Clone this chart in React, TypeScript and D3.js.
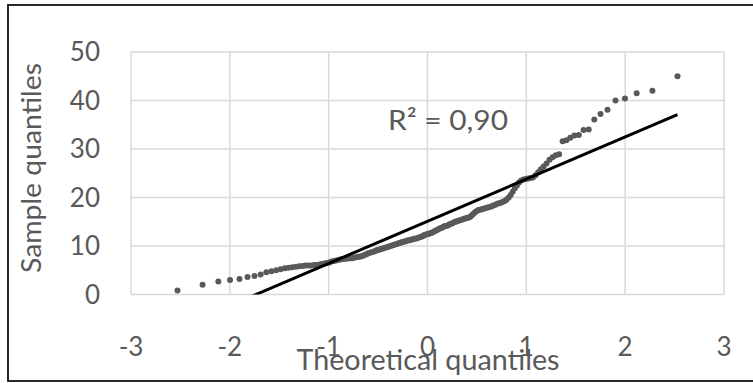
import React from "react";
import * as d3 from "d3";

// Sorted sample values, plotted against normal theoretical quantiles
const sampleQuantiles: number[] = [
  0.8, 2.0, 2.7, 3.0, 3.2, 3.6, 3.8, 4.1, 4.6,
  4.8, 5.0, 5.2, 5.4, 5.5, 5.6, 5.7, 5.8, 5.9, 6.0,
  6.0, 6.0, 6.1, 6.1, 6.2, 6.3, 6.4, 6.5, 6.6, 6.8,
  6.9, 7.0, 7.1, 7.2, 7.3, 7.3, 7.4, 7.4, 7.5, 7.5,
  7.6, 7.7, 7.8, 7.8, 7.9, 8.0, 8.2, 8.3, 8.5, 8.6,
  8.7, 8.8, 8.9, 9.1, 9.2, 9.3, 9.4, 9.5, 9.6, 9.7,
  9.8, 9.9, 10.0, 10.1, 10.2, 10.3, 10.4, 10.5, 10.6, 10.7,
  10.8, 10.9, 11.0, 11.1, 11.2, 11.2, 11.3, 11.4, 11.5, 11.5,
  11.6, 11.7, 11.8, 11.9, 12.0, 12.2, 12.3, 12.4,
  12.5, 12.6, 12.7, 12.8, 13.0, 13.1, 13.3, 13.4, 13.6, 13.7,
  13.8, 14.0, 14.1, 14.2, 14.3, 14.5, 14.6, 14.7, 14.9, 15.0,
  15.1, 15.2, 15.3, 15.4, 15.5, 15.6, 15.7, 15.8, 15.9, 16.1,
  16.4, 16.7, 17.0, 17.2, 17.4, 17.5, 17.6, 17.7, 17.8, 17.9,
  18.0, 18.1, 18.2, 18.4, 18.5, 18.7, 18.8, 18.9, 19.1, 19.3,
  19.6, 20.0, 20.5, 21.2, 21.9, 22.5, 23.1, 23.5, 23.7, 23.8,
  23.9, 24.0, 24.1, 24.6, 25.2, 25.8, 26.4, 27.0, 27.8, 28.3,
  28.7, 28.9, 31.6, 31.8, 32.3, 32.8, 32.9, 33.9, 34.0, 36.1,
  37.2, 38.1, 40.0, 40.4, 41.5, 42.0, 45.0,
];

const xTicks = [-3, -2, -1, 0, 1, 2, 3];
const yTicks = [0, 10, 20, 30, 40, 50];
const trendIntercept = 15.1;
const trendSlope = 8.7;
const r2Label = "R² = 0,90";
const xTitle = "Theoretical quantiles";
const yTitle = "Sample quantiles";

// Inverse standard normal CDF (Acklam)
function invNorm(p: number): number {
  const a = [-3.969683028665376e1, 2.209460984245205e2, -2.759285104469687e2, 1.38357751867269e2, -3.066479806614716e1, 2.506628277459239];
  const b = [-5.447609879822406e1, 1.615858368580409e2, -1.556989798598866e2, 6.680131188771972e1, -1.328068155288572e1];
  const c = [-7.784894002430293e-3, -3.223964580411365e-1, -2.400758277161838, -2.549732539343734, 4.374664141464968, 2.938163982698783];
  const d = [7.784695709041462e-3, 3.224671290700398e-1, 2.445134137142996, 3.754408661907416];
  const plow = 0.02425;
  if (p < plow) {
    const q = Math.sqrt(-2 * Math.log(p));
    return (((((c[0] * q + c[1]) * q + c[2]) * q + c[3]) * q + c[4]) * q + c[5]) / ((((d[0] * q + d[1]) * q + d[2]) * q + d[3]) * q + 1);
  }
  if (p <= 1 - plow) {
    const q = p - 0.5;
    const r = q * q;
    return ((((((a[0] * r + a[1]) * r + a[2]) * r + a[3]) * r + a[4]) * r + a[5]) * q) / (((((b[0] * r + b[1]) * r + b[2]) * r + b[3]) * r + b[4]) * r + 1);
  }
  const q = Math.sqrt(-2 * Math.log(1 - p));
  return -(((((c[0] * q + c[1]) * q + c[2]) * q + c[3]) * q + c[4]) * q + c[5]) / ((((d[0] * q + d[1]) * q + d[2]) * q + d[3]) * q + 1);
}

const FONT = "Lato, 'Open Sans', sans-serif";
const TEXT = "#595959";
const GRID = "#d9d9d9";

export default function App() {
  const W = 753;
  const H = 383;
  const left = 131, right = 724, top = 52, bottom = 294.5;
  const x = d3.scaleLinear().domain([-3, 3]).range([left, right]);
  const y = d3.scaleLinear().domain([0, 50]).range([bottom, top]);

  const n = sampleQuantiles.length;
  const pts = sampleQuantiles.map((v, i) => ({ tq: invNorm((i + 1) / (n + 1)), v }));
  const xMin = d3.min(pts, (p) => p.tq) as number;
  const xMax = d3.max(pts, (p) => p.tq) as number;
  const trend = [xMin, xMax].map((t) => ({ t, v: trendIntercept + trendSlope * t }));
  const lineGen = d3
    .line<{ t: number; v: number }>()
    .x((p) => x(p.t))
    .y((p) => y(p.v));

  return (
    <svg
      width={W}
      height={H}
      style={{ position: "absolute", left: 0, top: 0, background: "#fff" }}
      fontFamily={FONT}
    >
      <defs>
        <clipPath id="plotClip">
          <rect x={left} y={top} width={right - left} height={bottom - top} />
        </clipPath>
      </defs>
      <rect x={0} y={0} width={W} height={H} fill="#fff" />
      <rect x={8} y={5} width={W + 20} height={376} fill="none" stroke="#111" strokeWidth={1.8} />

      {/* grid */}
      {yTicks.map((t) => (
        <line key={"gy" + t} x1={left} x2={right} y1={y(t)} y2={y(t)} stroke={GRID} strokeWidth={1.5} />
      ))}
      {xTicks.map((t) => (
        <line key={"gx" + t} x1={x(t)} x2={x(t)} y1={top} y2={bottom} stroke={GRID} strokeWidth={1.5} />
      ))}

      {/* points */}
      <g fill="#595959">
        {pts.map((p, i) => (
          <circle key={i} cx={x(p.tq)} cy={y(p.v)} r={3} />
        ))}
      </g>

      {/* trendline */}
      <path d={lineGen(trend) || ""} stroke="#000" strokeWidth={3} fill="none" clipPath="url(#plotClip)" />

      {/* y tick labels */}
      {yTicks.map((t) => (
        <text key={"ty" + t} x={100} y={y(t)} dy="0.36em" textAnchor="end" fontSize={26} fill={TEXT}>
          {t}
        </text>
      ))}
      {/* x tick labels */}
      {xTicks.map((t) => (
        <text key={"tx" + t} x={x(t)} y={356} textAnchor="middle" fontSize={26} fill={TEXT}>
          {t}
        </text>
      ))}

      <text x={428} y={370} textAnchor="middle" fontSize={28} fill={TEXT} textLength={263} lengthAdjust="spacingAndGlyphs">
        {xTitle}
      </text>
      <text
        transform={`translate(41,168) rotate(-90)`}
        textAnchor="middle"
        fontSize={27}
        fill={TEXT}
        textLength={210}
        lengthAdjust="spacingAndGlyphs"
      >
        {yTitle}
      </text>
      <text x={388} y={130} fontSize={27} fill={TEXT} textLength={120} lengthAdjust="spacingAndGlyphs">
        {r2Label}
      </text>
    </svg>
  );
}
